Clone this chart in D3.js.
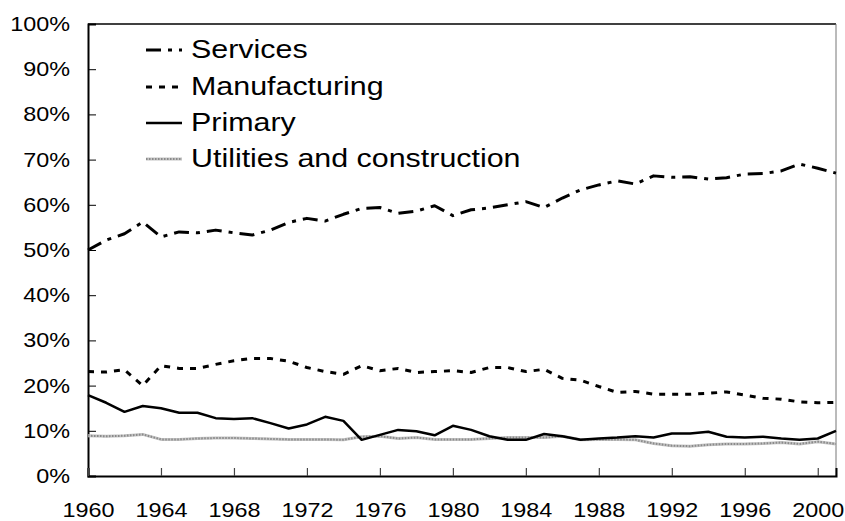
<!DOCTYPE html>
<html>
<head>
<meta charset="utf-8">
<script src="https://cdn.jsdelivr.net/npm/d3@7"></script>
<style>
  body { margin: 0; background: #fff; }
  svg { display: block; font-family: "Liberation Sans", Arial, sans-serif; }
</style>
</head>
<body>
<svg id="chart" width="845" height="521"></svg>
<script>
const years = d3.range(1960, 2002);
const services = [50.0, 52.2, 53.6, 56.2, 52.9, 54.0, 53.8, 54.4, 53.8, 53.3, 54.4, 56.1, 57.0, 56.4, 57.9, 59.2, 59.4, 58.1, 58.6, 59.8, 57.6,
  58.9, 59.3, 60.0, 60.7, 59.4, 61.5, 63.3, 64.4, 65.3, 64.6, 66.4, 66.1, 66.2, 65.7, 66.0, 66.8, 66.9, 67.5, 69.0, 68.1, 67.0];
const manufacturing = [23.1, 23.0, 23.5, 20.0, 24.4, 23.8, 23.8, 24.7, 25.5, 26.0, 26.0, 25.4, 24.0, 23.1, 22.5, 24.4, 23.3, 23.8, 22.9, 23.1, 23.3,
  22.9, 24.0, 24.0, 23.1, 23.6, 21.6, 21.2, 19.8, 18.5, 18.7, 18.1, 18.1, 18.1, 18.3, 18.6, 17.9, 17.2, 17.0, 16.4, 16.2, 16.3];
const primary = [17.9, 16.2, 14.2, 15.5, 15.0, 14.0, 14.0, 12.8, 12.6, 12.8, 11.7, 10.5, 11.4, 13.1, 12.2, 8.0, 9.1, 10.2, 9.9, 9.0, 11.1,
  10.2, 8.8, 8.0, 8.0, 9.3, 8.8, 8.0, 8.3, 8.5, 8.8, 8.5, 9.4, 9.4, 9.8, 8.7, 8.5, 8.7, 8.3, 8.0, 8.3, 10.0];
const utilities = [8.9, 8.8, 8.9, 9.2, 8.1, 8.1, 8.3, 8.4, 8.4, 8.3, 8.2, 8.1, 8.1, 8.1, 8.0, 8.7, 8.8, 8.3, 8.5, 8.1, 8.1,
  8.1, 8.3, 8.5, 8.5, 8.5, 8.8, 8.0, 8.1, 8.1, 8.0, 7.2, 6.7, 6.6, 6.9, 7.1, 7.1, 7.2, 7.4, 7.1, 7.6, 7.1];
const seriesNames = ["Services", "Manufacturing", "Primary", "Utilities and construction"];
const xTicks = d3.range(1960, 2001, 4);
const yTicks = d3.range(0, 101, 10);

const svg = d3.select("#chart");
const mLeft = 88, mRight = 836, mTop = 24, mBottom = 476;
const x = d3.scaleLinear().domain([1960, 2001]).range([mLeft, mRight]);
const y = d3.scaleLinear().domain([0, 100]).range([mBottom, mTop]);
const stretch = 1.17;

// frame top/right
svg.append("line").attr("x1", mLeft).attr("x2", mRight).attr("y1", mTop).attr("y2", mTop)
  .attr("stroke", "#000").attr("stroke-width", 1.5);
svg.append("line").attr("x1", mRight).attr("x2", mRight).attr("y1", mTop).attr("y2", mBottom)
  .attr("stroke", "#777").attr("stroke-width", 1);

// axes
const yAxis = d3.axisLeft(y).tickValues(yTicks).tickSize(-8).tickPadding(18).tickFormat(d => d + "%");
const gy = svg.append("g").attr("transform", `translate(${mLeft},0)`).call(yAxis);
gy.select(".domain").attr("stroke-width", 2);
gy.selectAll(".tick line").attr("stroke-width", 1);
gy.selectAll("text").attr("font-size", 20).attr("fill", "#000")
  .attr("font-family", "Liberation Sans, Arial, sans-serif")
  .attr("transform", `translate(-18,0) scale(${stretch},1) translate(18,0)`);

const xAxis = d3.axisBottom(x).tickValues(xTicks).tickSize(-8).tickPadding(27).tickFormat(d3.format("d"));
const gx = svg.append("g").attr("transform", `translate(0,${mBottom})`).call(xAxis);
gx.select(".domain").attr("stroke-width", 2);
gx.selectAll(".tick line").attr("stroke-width", 1.2).attr("stroke", "#444");
gx.selectAll("text").attr("font-size", 20).attr("fill", "#000")
  .attr("font-family", "Liberation Sans, Arial, sans-serif")
  .attr("transform", `scale(${stretch},1)`);

const line = d3.line().x((d, i) => x(years[i])).y(d => y(d));

const styles = [
  { data: services, stroke: "#000", width: 3, dash: "15,7,4,7" },
  { data: manufacturing, stroke: "#000", width: 3, dash: "6,7" },
  { data: primary, stroke: "#000", width: 2.5, dash: null },
  { data: utilities, stroke: "#c4c4c4", width: 3, dash: null, overlay: { stroke: "#8a8a8a", width: 2, dash: "1.5,1.5" } }
];

[3, 1, 2, 0].forEach(k => {
  const s = styles[k];
  svg.append("path").datum(s.data).attr("d", line).attr("fill", "none")
    .attr("stroke", s.stroke).attr("stroke-width", s.width)
    .attr("stroke-dasharray", s.dash).attr("stroke-linejoin", "round");
  if (s.overlay) {
    svg.append("path").datum(s.data).attr("d", line).attr("fill", "none")
      .attr("stroke", s.overlay.stroke).attr("stroke-width", s.overlay.width)
      .attr("stroke-dasharray", s.overlay.dash);
  }
});

// legend
const legendY = [50, 87, 123, 159];
const textX = 191;
seriesNames.forEach((name, k) => {
  const s = styles[k];
  const g = svg.append("g");
  g.append("line").attr("x1", 146).attr("x2", 182).attr("y1", legendY[k]).attr("y2", legendY[k])
    .attr("stroke", s.stroke).attr("stroke-width", s.width).attr("stroke-dasharray", s.dash);
  if (s.overlay) {
    g.append("line").attr("x1", 146).attr("x2", 182).attr("y1", legendY[k]).attr("y2", legendY[k])
      .attr("stroke", s.overlay.stroke).attr("stroke-width", s.overlay.width).attr("stroke-dasharray", s.overlay.dash);
  }
  g.append("text").attr("x", 0).attr("y", 0).attr("dy", "0.35em")
    .attr("transform", `translate(${textX},${legendY[k] - 1}) scale(${stretch},1)`)
    .attr("font-size", 26).attr("fill", "#000").text(name);
});
</script>
</body>
</html>
